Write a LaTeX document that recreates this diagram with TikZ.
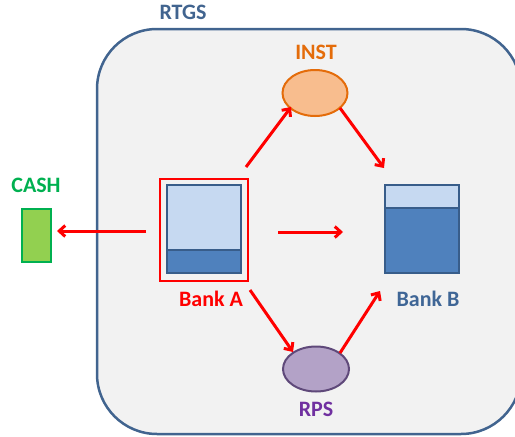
\documentclass[tikz,border=0pt]{standalone}
\usepackage{fontspec}
\setmainfont{Carlito}
\usetikzlibrary{arrows.meta,shapes.geometric}
\definecolor{frameblue}{HTML}{41648F}
\definecolor{bgray}{HTML}{F2F2F2}
\definecolor{lblue}{HTML}{C6D9F1}
\definecolor{dblue}{HTML}{4F81BD}
\definecolor{eblue}{HTML}{385D8A}
\definecolor{txtblue}{HTML}{3F6696}
\definecolor{orfill}{HTML}{F8BD8E}
\definecolor{ordraw}{HTML}{E46C0A}
\definecolor{pufill}{HTML}{B3A2C7}
\definecolor{pudraw}{HTML}{5F497A}
\definecolor{putext}{HTML}{7030A0}
\definecolor{gfill}{HTML}{92D050}
\definecolor{gdraw}{HTML}{00B050}
\definecolor{arred}{HTML}{FF0000}
\begin{document}
\begin{tikzpicture}[x=1pt,y=-1pt,
  lbl/.style={font=\bfseries\fontsize{22}{24}\selectfont, inner sep=0pt},
  flow/.style={draw=arred, line width=3pt, -{Straight Barb[length=6pt,width=11pt,line width=3pt]}},
  lightpart/.style={fill=lblue, draw=eblue, line width=2pt},
  darkpart/.style={fill=dblue, draw=eblue, line width=2pt}]
\useasboundingbox (0,0) rectangle (515,437);
\begin{scope}
\clip (0,0) rectangle (515,437);
\draw[fill=bgray, draw=frameblue, line width=2.5pt, rounded corners=60pt] (97,29) rectangle (521,434);
\end{scope}
\node[lbl, text=frameblue] (rtgs) at (183,12) {RTGS};
% INST
\node[ellipse, minimum width=65pt, minimum height=46pt, fill=orfill, draw=ordraw, line width=2pt] (inst) at (315,93) {};
\node[lbl, text=ordraw] (instl) at (316,52) {INST};
% Bank A
\node[draw=arred, line width=2pt, minimum width=88pt, minimum height=102pt, inner sep=0pt] (bankA) at (204,230) {};
\draw[lightpart] (167,185) rectangle (241,250);
\draw[darkpart] (167,250) rectangle (241,273);
\node[lbl, text=arred] (bankAl) at (211,299) {Bank A};
% Bank B
\node[minimum width=74pt, minimum height=88pt, inner sep=0pt] (bankB) at (422,229) {};
\draw[lightpart] (385,185) rectangle (459,208);
\draw[darkpart] (385,208) rectangle (459,273);
\node[lbl, text=txtblue] (bankBl) at (428,299) {Bank B};
% RPS
\node[ellipse, minimum width=66pt, minimum height=45pt, fill=pufill, draw=pudraw, line width=2pt] (rps) at (316,369) {};
\node[lbl, text=putext] (rpsl) at (316,409) {RPS};
% CASH
\node[fill=gfill, draw=gdraw, line width=2pt, minimum width=29pt, minimum height=53pt, inner sep=0pt] (cash) at (36.5,235.5) {};
\node[lbl, text=gdraw] (cashl) at (36,185) {CASH};
% arrow endpoints
\coordinate (a1s) at (146,231); \coordinate (a1e) at (57,231);
\coordinate (a2s) at (278,232); \coordinate (a2e) at (343,232);
\coordinate (a3s) at (246,167); \coordinate (a3e) at (291,107);
\coordinate (a4s) at (340,108); \coordinate (a4e) at (384,168);
\coordinate (a5s) at (250,290); \coordinate (a5e) at (293,352);
\coordinate (a6s) at (340,353); \coordinate (a6e) at (380,291);
\draw[flow] (a1s) -- (a1e);
\draw[flow] (a2s) -- (a2e);
\draw[flow] (a3s) -- (a3e);
\draw[flow] (a4s) -- (a4e);
\draw[flow] (a5s) -- (a5e);
\draw[flow] (a6s) -- (a6e);
\end{tikzpicture}
\end{document}
